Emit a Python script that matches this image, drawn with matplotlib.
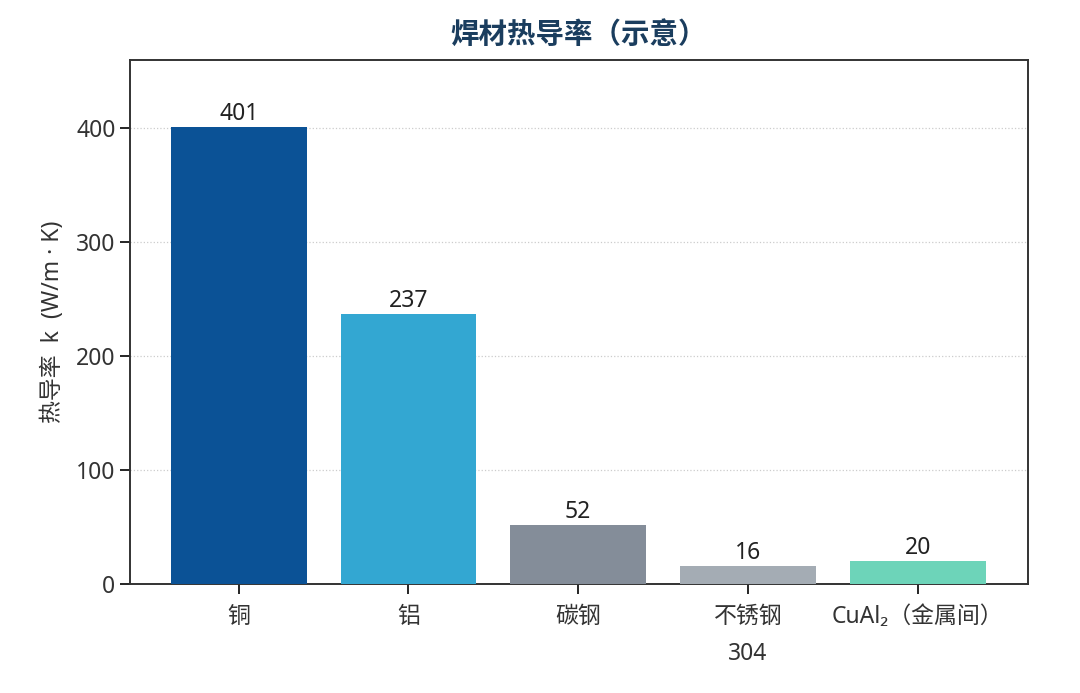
import matplotlib
matplotlib.use("Agg")
import matplotlib.pyplot as plt

plt.rcParams["font.family"] = ["Noto Sans", "Noto Sans CJK SC", "DejaVu Sans"]

materials = ["铜", "铝", "碳钢", "不锈钢\n304", "CuAl₂（金属间）"]
conductivity = [401, 237, 52, 16, 20]
bar_colors = ["#0b5296", "#33a7d2", "#848d99", "#a4acb4", "#6dd4b9"]
y_ticks = [0, 100, 200, 300, 400]

fig, ax = plt.subplots(figsize=(10.8, 6.93), dpi=100)
fig.subplots_adjust(left=0.1204, right=0.952, top=0.9134, bottom=0.1573)

x = range(len(materials))
bars = ax.bar(x, conductivity, width=0.8, color=bar_colors, zorder=3)

for rect, val in zip(bars, conductivity):
    ax.text(rect.get_x() + rect.get_width() / 2, val + 1, str(val),
            ha="center", va="bottom", fontsize=16.5, color="#222222")

ax.set_xlim(-0.64, 4.65)
ax.set_ylim(0, 460)
ax.set_yticks(y_ticks)
ax.set_xticks(list(x))
ax.set_xticklabels(materials, fontsize=16.5, color="#333333", linespacing=1.75)
ax.tick_params(axis="y", labelsize=16.5, labelcolor="#333333", length=7, width=1.2)
ax.tick_params(axis="x", length=7, width=1.2, pad=8)

ax.grid(axis="y", linestyle=":", color="#cccccc", linewidth=0.9, zorder=0)
for s in ax.spines.values():
    s.set_color("#333333")
    s.set_linewidth(1.4)

ax.set_ylabel("热导率  k  (W/m · K)", fontsize=16.5, color="#333333", labelpad=8)
ax.set_title("焊材热导率（示意）", fontsize=20.5, fontweight="bold",
             color="#1a3d5e", pad=12)

fig.savefig("out.png", dpi=100)
